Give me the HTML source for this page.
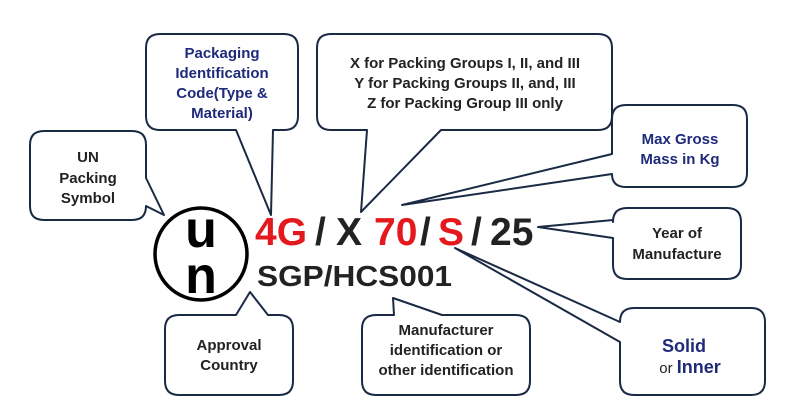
<!DOCTYPE html>
<html><head><meta charset="utf-8"><style>
html,body{margin:0;padding:0;background:#fff;width:800px;height:410px;overflow:hidden}
svg{display:block}
text{font-family:"Liberation Sans",Arial,sans-serif;font-weight:bold}
</style></head><body>
<svg width="800" height="410" viewBox="0 0 800 410" xmlns="http://www.w3.org/2000/svg">
<g fill="#fff" stroke="#1b2a44" stroke-width="2" stroke-linejoin="round">
<path d="M44,131 H132 Q146,131 146,145 V178 L164,215 L146,206 Q146,220 132,220 H44 Q30,220 30,206 V145 Q30,131 44,131 Z"/>
<path d="M160,34 H284 Q298,34 298,48 V116 Q298,130 284,130 H273 L271,215 L236,130 H160 Q146,130 146,116 V48 Q146,34 160,34 Z"/>
<path d="M331,34 H598 Q612,34 612,48 V116 Q612,130 598,130 H441 L361,212 L367,130 H331 Q317,130 317,116 V48 Q317,34 331,34 Z"/>
<path d="M626,105 H733 Q747,105 747,119 V173 Q747,187 733,187 H626 Q612,187 612,174 L402,205 L612,154 V119 Q612,105 626,105 Z"/>
<path d="M627,208 H727 Q741,208 741,222 V265 Q741,279 727,279 H627 Q613,279 613,265 V238 L538,227 L613,220 V222 Q613,208 627,208 Z"/>
<path d="M634,308 H751 Q765,308 765,322 V381 Q765,395 751,395 H634 Q620,395 620,381 V342 L455,248 L620,322 Q620,308 634,308 Z"/>
<path d="M179,315 H236 L250,292 L268,315 H279 Q293,315 293,329 V381 Q293,395 279,395 H179 Q165,395 165,381 V329 Q165,315 179,315 Z"/>
<path d="M376,315 H394 L393,298 L442,315 H516 Q530,315 530,329 V381 Q530,395 516,395 H376 Q362,395 362,381 V329 Q362,315 376,315 Z"/>
</g>
<circle cx="201" cy="254" r="46" fill="none" stroke="#000" stroke-width="3.5"/>
<text x="201" y="247" font-size="52" text-anchor="middle" fill="#000">u</text>
<text x="201" y="293" font-size="52" text-anchor="middle" fill="#000">n</text>
<g font-size="39">
<text x="255" y="245" fill="#e3191e">4G</text>
<text x="315" y="245" fill="#222">/</text>
<text x="336" y="245" fill="#222">X</text>
<text x="374" y="245" fill="#e3191e">70</text>
<text x="420" y="245" fill="#222">/</text>
<text x="438" y="245" fill="#e3191e">S</text>
<text x="471" y="245" fill="#222">/</text>
<text x="490" y="245" fill="#222">25</text>
</g>
<text x="257" y="286" font-size="29" fill="#222" textLength="195" lengthAdjust="spacingAndGlyphs">SGP/HCS001</text>
<g font-size="15" text-anchor="middle" fill="#222">
<text x="88" y="162">UN</text>
<text x="88" y="183">Packing</text>
<text x="88" y="203">Symbol</text>
<text x="465" y="68">X for Packing Groups I, II, and III</text>
<text x="465" y="88">Y for Packing Groups II, and, III</text>
<text x="465" y="108">Z for Packing Group III only</text>
<text x="677" y="238">Year of</text>
<text x="677" y="259">Manufacture</text>
<text x="229" y="350">Approval</text>
<text x="229" y="370">Country</text>
<text x="446" y="335">Manufacturer</text>
<text x="446" y="355">identification or</text>
<text x="446" y="375">other identification</text>
</g>
<g font-size="15" text-anchor="middle" fill="#1f2a7a">
<text x="222" y="58">Packaging</text>
<text x="222" y="78">Identification</text>
<text x="222" y="98">Code(Type &amp;</text>
<text x="222" y="118">Material)</text>
<text x="680" y="144">Max Gross</text>
<text x="680" y="164">Mass in Kg</text>
</g>
<text x="684" y="352" font-size="18" text-anchor="middle" fill="#1f2a7a">Solid</text>
<text x="690" y="373" font-size="18" text-anchor="middle" fill="#1f2a7a"><tspan fill="#222" font-weight="normal" font-size="15">or </tspan>Inner</text>
</svg>
</body></html>
